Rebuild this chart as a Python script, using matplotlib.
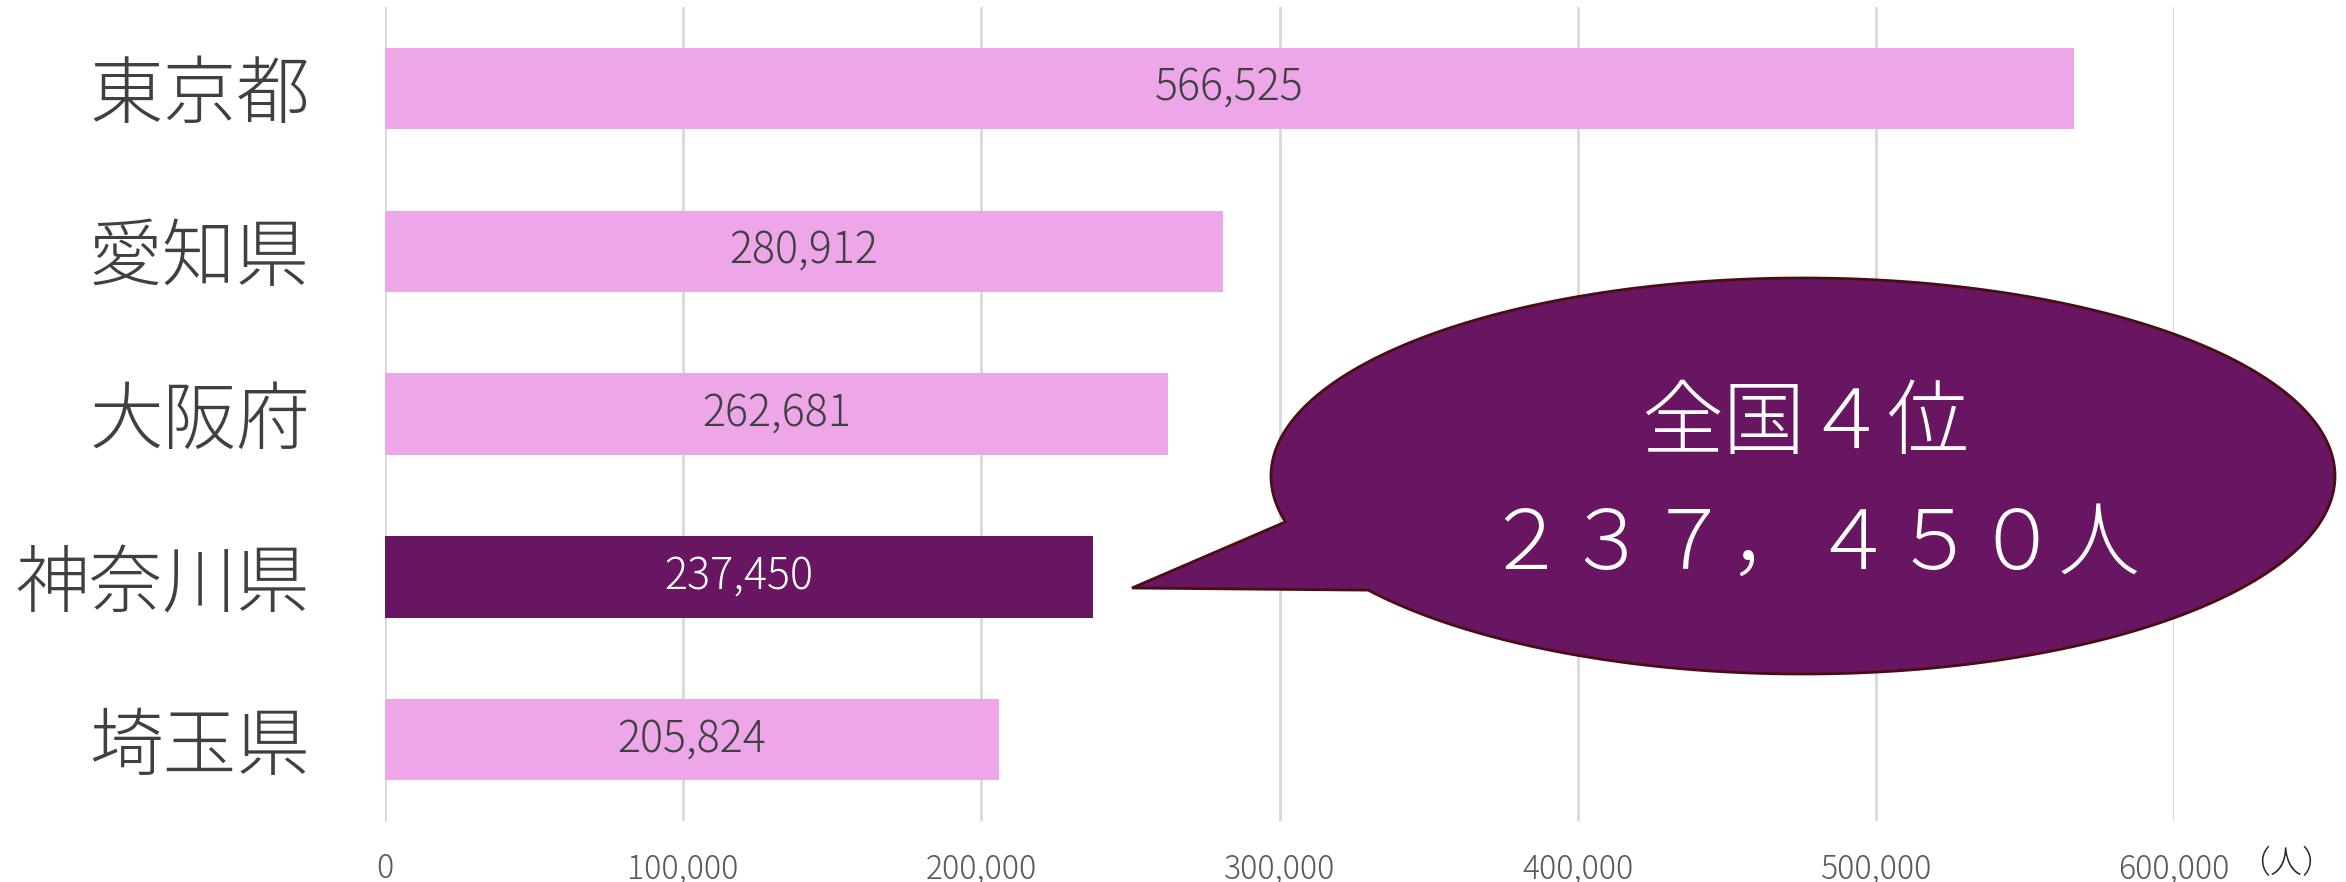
import matplotlib
matplotlib.use("Agg")
import matplotlib.pyplot as plt
import numpy as np
from matplotlib.patches import Polygon

plt.rcParams['font.family'] = ['Noto Sans CJK JP', 'DejaVu Sans']
plt.rcParams['font.weight'] = 'light'

categories = ["東京都", "愛知県", "大阪府", "神奈川県", "埼玉県"]
values = [566525, 280912, 262681, 237450, 205824]
highlight = "神奈川県"
xticks = [0, 100000, 200000, 300000, 400000, 500000, 600000]
unit_label = "（人）"
bubble_lines = ["全国４位", "２３７，４５０人"]

W, H = 2346, 882
fig = plt.figure(figsize=(W / 100, H / 100), dpi=100)
ax = fig.add_axes([385 / W, 1 - 821 / H, (2174 - 385) / W, (821 - 7) / H])

pink = "#EDA6E7"
purple = "#691662"
colors = [purple if c == highlight else pink for c in categories]
y = np.arange(len(categories))
ax.barh(y, values, height=0.5, color=colors, zorder=2)
ax.set_ylim(len(categories) - 0.5, -0.5)
ax.set_xlim(0, 600000)

for yi, v, c in zip(y, values, categories):
    ax.text(v / 2, yi, f"{v:,}", ha="center", va="center", fontsize=31,
            fontweight="light",
            color="white" if c == highlight else "#404040", zorder=3)

ax.set_yticks(y)
ax.set_yticklabels(categories, fontsize=53, color="#404040", fontweight="light")
ax.set_xticks(xticks)
ax.set_xticklabels([f"{t:,}" for t in xticks], fontsize=23, color="#595959",
                   fontweight="light")
ax.tick_params(axis="y", length=0, pad=54)
ax.tick_params(axis="x", length=0, pad=22)
ax.grid(axis="x", color="#D9D9D9", linewidth=2, zorder=0)
ax.set_axisbelow(True)
for s in ax.spines.values():
    s.set_visible(False)

# unit label
fig.text(2286 / W, 1 - 864 / H, unit_label, ha="center", va="center",
         fontsize=23, color="#262626", fontweight="light")

# speech bubble (pixel coordinates, y down)
cx, cy, a, b = 1803, 476, 532, 198
t1, t2 = np.deg2rad(166.6), np.deg2rad(144.8 + 360)
t = np.linspace(t1, t2, 400)
px = cx + a * np.cos(t)
py = cy + b * np.sin(t)
px = np.append(px, 1132)
py = np.append(py, 588)
pts = np.column_stack([px / W, 1 - py / H])
bubble = Polygon(pts, closed=True, transform=fig.transFigure, facecolor=purple,
                 edgecolor="#4A0D12", linewidth=2, zorder=5)
fig.patches.append(bubble)
fig.text(1805 / W, 1 - 425 / H, bubble_lines[0], ha="center", va="center",
         fontsize=59, color="white", zorder=6, fontweight="light")
fig.text(1812 / W, 1 - 546 / H, bubble_lines[1], ha="center", va="center",
         fontsize=59, color="white", zorder=6, fontweight="light")

fig.savefig("out.png", dpi=100, facecolor="white")
